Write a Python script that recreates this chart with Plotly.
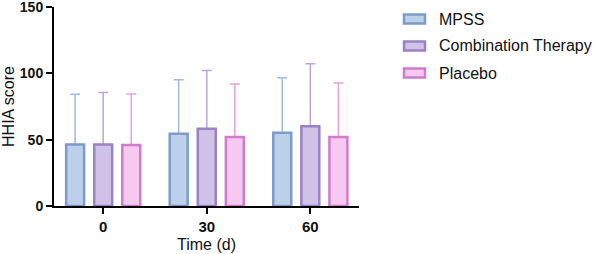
import plotly.graph_objects as go

# ---- data ----
time_labels = ["0", "30", "60"]
series_names = ["MPSS", "Combination Therapy", "Placebo"]
mpss_mean = [46.3, 54.5, 55.2]
mpss_upper = [84.3, 95.2, 96.6]
combo_mean = [46.3, 58.3, 60.2]
combo_upper = [85.5, 102.2, 107.2]
placebo_mean = [46.0, 52.0, 52.0]
placebo_upper = [84.5, 92.0, 92.8]
y_ticks = [0, 50, 100, 150]

means = [mpss_mean, combo_mean, placebo_mean]
uppers = [mpss_upper, combo_upper, placebo_upper]

fills = ["#bcd0ea", "#cfc2e6", "#f5c9f1"]
lines = ["#7d9bc9", "#9a82c4", "#d07ccb"]
errc = ["#a3badf", "#b9a6dd", "#e0a3dc"]

fig = go.Figure()
# error bars (drawn first, covered at their base by the bars)
for i, name in enumerate(series_names):
    fig.add_trace(go.Bar(
        x=time_labels, y=means[i], offsetgroup=str(i), showlegend=False,
        marker=dict(color="rgba(0,0,0,0)", line=dict(width=0)),
        error_y=dict(type="data", symmetric=False,
                     array=[u - m for u, m in zip(uppers[i], means[i])],
                     arrayminus=[0] * len(means[i]),
                     color=errc[i], thickness=1.5, width=5),
        hoverinfo="skip",
    ))
for i, name in enumerate(series_names):
    fig.add_trace(go.Bar(
        x=time_labels, y=means[i], offsetgroup=str(i), name=name, showlegend=False,
        marker=dict(color=fills[i], line=dict(color=lines[i], width=2.5)),
    ))

# custom legend (positions in paper fractions of the plot area)
L, R, T, B = 54, 239, 7, 48
W, H = 598, 254
pw, ph = W - L - R, H - T - B
leg_y = [19, 46, 73]
for i, name in enumerate(series_names):
    fig.add_shape(type="rect", xref="paper", yref="paper",
                  x0=(404 - L) / pw, x1=(425 - L) / pw,
                  y0=(H - B - (leg_y[i] + 4.5)) / ph, y1=(H - B - (leg_y[i] - 4.5)) / ph,
                  fillcolor=fills[i], line=dict(color=lines[i], width=2.5))
    fig.add_annotation(text=name, xref="paper", yref="paper",
                       x=(437 - L) / pw, y=(H - B - leg_y[i]) / ph,
                       xanchor="left", yanchor="middle", showarrow=False,
                       font=dict(family="Liberation Sans, Arial", size=16, color="#111"))

fig.update_layout(
    width=W, height=H,
    margin=dict(l=L, r=R, t=T, b=B),
    plot_bgcolor="white", paper_bgcolor="white",
    barmode="group", bargap=0.187, bargroupgap=0.36,
    font=dict(family="Liberation Sans, Arial", color="#111"),
)
fig.update_xaxes(
    type="category", range=[-0.475, 2.47], automargin=False,
    showline=True, linecolor="black", linewidth=2,
    ticks="outside", ticklen=6, tickwidth=2, tickcolor="black",
    tickfont=dict(size=15, family="Liberation Sans, Arial", weight="bold"),
    title=dict(text="Time (d)", font=dict(size=16), standoff=5),
    showgrid=False, zeroline=False, ticklabeloverflow="allow",
)
fig.update_yaxes(
    range=[0, 150], tickvals=y_ticks, automargin=False,
    showline=True, linecolor="black", linewidth=2,
    ticks="outside", ticklen=6, tickwidth=2, tickcolor="black",
    tickfont=dict(size=14, family="Liberation Sans, Arial", weight="bold"),
    title=dict(text="HHIA score", font=dict(size=16), standoff=8),
    showgrid=False, zeroline=False, ticklabeloverflow="allow",
)

fig.write_html("out.html", config={"displayModeBar": False},
               post_script="document.body.style.margin='0';document.body.style.overflow='hidden';")
